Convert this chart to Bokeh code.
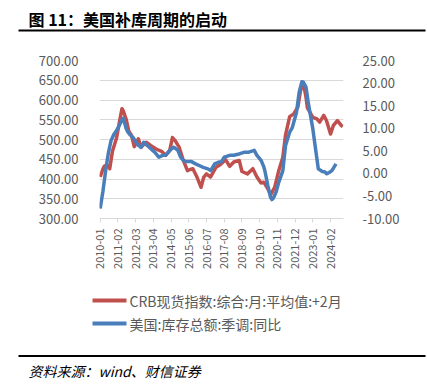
from bokeh.plotting import figure
from bokeh.layouts import column
from bokeh.models import Range1d, LinearAxis, FixedTicker, CustomJSTickFormatter
from bokeh.core.properties import value
from bokeh.embed import file_html
from bokeh.resources import INLINE

# ---------------- data ----------------
tick_labels = ["2010-01", "2011-02", "2012-03", "2013-04", "2014-05", "2015-06", "2016-07",
               "2017-08", "2018-09", "2019-10", "2020-11", "2021-12", "2023-01", "2024-02"]

crb_months = ["2010-01", "2010-03", "2010-04", "2010-06", "2010-08", "2010-10", "2011-01",
              "2011-03", "2011-05", "2011-06", "2011-08", "2011-10", "2011-12", "2012-02",
              "2012-05", "2012-07", "2012-09", "2012-11", "2013-02", "2013-06", "2013-10",
              "2014-01", "2014-04", "2014-06", "2014-08", "2014-11", "2015-02", "2015-05",
              "2015-07", "2015-09", "2015-12", "2016-03", "2016-05", "2016-07", "2016-10",
              "2017-02", "2017-05", "2017-09", "2017-12", "2018-03", "2018-07", "2018-09",
              "2019-01", "2019-05", "2019-08", "2019-11", "2020-01", "2020-04", "2020-06",
              "2020-09", "2020-12", "2021-03", "2021-05", "2021-08", "2021-11", "2022-02",
              "2022-04", "2022-06", "2022-08", "2022-09", "2023-01", "2023-04", "2023-06",
              "2023-09", "2023-11", "2024-02", "2024-04", "2024-07", "2024-10", "2024-11"]
crb_values = [405, 425, 432, 436, 426, 470, 504,
              542, 578, 572, 552, 521, 510, 482,
              502, 480, 488, 493, 485, 476, 470,
              460, 472, 505, 497, 480, 447, 421,
              424, 426, 405, 379, 405, 413, 405,
              430, 436, 449, 432, 443, 447, 419,
              413, 426, 405, 390, 392, 375, 360,
              379, 421, 455, 512, 558, 565, 582,
              624, 644, 607, 580, 556, 552, 544,
              561, 548, 514, 535, 548, 535, 533]

inv_months = ["2010-01", "2010-03", "2010-05", "2010-07", "2010-09", "2010-11", "2011-01",
              "2011-03", "2011-05", "2011-06", "2011-08", "2011-09", "2011-11", "2012-01",
              "2012-03", "2012-05", "2012-07", "2012-09", "2012-11", "2013-01", "2013-03",
              "2013-05", "2013-08", "2013-11", "2014-01", "2014-04", "2014-07", "2014-10",
              "2014-12", "2015-02", "2015-04", "2015-08", "2015-11", "2016-04", "2016-08",
              "2016-10", "2017-01", "2017-04", "2017-06", "2017-08", "2017-12", "2018-03",
              "2018-07", "2018-11", "2019-02", "2019-06", "2019-08", "2019-11", "2020-01",
              "2020-02", "2020-04", "2020-06", "2020-07", "2020-08", "2020-10", "2020-12",
              "2021-03", "2021-05", "2021-08", "2021-10", "2022-01", "2022-03", "2022-05",
              "2022-06", "2022-08", "2022-10", "2023-01", "2023-03", "2023-05", "2023-08",
              "2023-10", "2023-11", "2024-01", "2024-03", "2024-06"]
inv_values = [-7.8, -4.0, 0.6, 4.5, 7.3, 8.6, 9.5,
              10.6, 11.9, 12.2, 10.0, 9.3, 8.5, 8.0,
              7.0, 6.2, 5.8, 6.9, 6.3, 5.8, 5.2,
              4.7, 3.6, 4.0, 4.0, 5.1, 5.8, 5.1,
              3.6, 2.9, 2.6, 2.6, 2.1, 1.4, 1.0,
              0.6, 2.1, 2.5, 2.6, 3.6, 4.0, 4.0,
              4.3, 4.7, 4.7, 5.1, 4.0, 2.9, 1.5,
              0.3, -2.7, -5.3, -5.8, -5.5, -4.2, -2.0,
              0.6, 6.2, 9.1, 10.2, 13.5, 18.0, 20.3,
              20.2, 19.1, 15.0, 9.9, 5.4, 1.0, 0.4,
              0.3, -0.1, 0.2, 0.6, 2.1]

left_ticks = [300, 350, 400, 450, 500, 550, 600, 650, 700]
right_ticks = [-10, -5, 0, 5, 10, 15, 20, 25]

crb_name = "CRB现货指数:综合:月:平均值:+2月"
inv_name = "美国:库存总额:季调:同比"
title_text = "图 11：美国补库周期的启动"
source_text = "资料来源：wind、财信证券"

RED = "#C0504D"
BLUE = "#4A7EBB"
GREY = "#595959"
FONT = "Noto Sans CJK SC"
W = 427


def midx(s):
    y, m = s.split("-")
    return (int(y) - 2010) * 12 + int(m) - 1


crb_x = [midx(s) for s in crb_months]
inv_x = [midx(s) for s in inv_months]
tick_x = [midx(s) for s in tick_labels]


def blank(h):
    f = figure(width=W, height=h, output_backend="svg", toolbar_location=None,
               x_range=Range1d(0, W), y_range=Range1d(h, 0),
               x_axis_type=None, y_axis_type=None, min_border=0,
               frame_align=False)
    f.outline_line_color = None
    f.xgrid.visible = False
    f.ygrid.visible = False
    return f


# ---------------- header ----------------
TOP_H = 40
top = blank(TOP_H)
top.text(x=[28], y=[18], text=[title_text], text_font=value(FONT), text_font_style="bold",
         text_font_size="16px", text_color="black", text_baseline="middle", text_align="left")
top.segment(x0=[18], y0=[30], x1=[425], y1=[30], line_color="black", line_width=2)

# ---------------- main chart ----------------
MAIN_H = 245
FL, FR, FT, FB = 99, 343, 20, 178  # frame edges within main figure
p = figure(width=W, height=MAIN_H, output_backend="svg", toolbar_location=None,
           x_range=Range1d(-0.5, 178.5), y_range=Range1d(300, 700),
           min_border_left=FL, min_border_right=W - FR,
           min_border_top=FT, min_border_bottom=MAIN_H - FB, frame_align=False)
p.outline_line_color = None
p.extra_y_ranges = {"right": Range1d(-10, 25)}

p.yaxis.ticker = FixedTicker(ticks=left_ticks)
p.yaxis.formatter = CustomJSTickFormatter(code="return tick.toFixed(2);")
p.yaxis.axis_line_color = None
p.yaxis.major_tick_line_color = None
p.yaxis.minor_tick_line_color = None
p.yaxis.major_label_standoff = 15
p.yaxis.major_label_text_font = FONT
p.yaxis.major_label_text_font_size = "13px"
p.yaxis.major_label_text_color = GREY

ra = LinearAxis(y_range_name="right", ticker=FixedTicker(ticks=right_ticks),
                formatter=CustomJSTickFormatter(code="return tick.toFixed(2);"))
ra.axis_line_color = None
ra.major_tick_line_color = None
ra.minor_tick_line_color = None
ra.major_label_standoff = 13
ra.major_label_text_font = FONT
ra.major_label_text_font_size = "13px"
ra.major_label_text_color = GREY
p.add_layout(ra, "right")

p.xaxis.ticker = FixedTicker(ticks=tick_x)
p.xaxis.major_label_overrides = {x: s for x, s in zip(tick_x, tick_labels)}
p.xaxis.major_label_orientation = 1.5707963
p.xaxis.axis_line_color = "#D9D9D9"
p.xaxis.major_tick_line_color = "#D9D9D9"
p.xaxis.major_tick_in = 0
p.xaxis.major_tick_out = 4
p.xaxis.minor_tick_line_color = None
p.xaxis.major_label_standoff = 6
p.xaxis.major_label_text_font = FONT
p.xaxis.major_label_text_font_size = "11px"
p.xaxis.major_label_text_color = GREY

p.xgrid.grid_line_color = None
p.ygrid.grid_line_color = "#D9D9D9"
p.ygrid.ticker = FixedTicker(ticks=left_ticks)

p.line(crb_x, crb_values, line_color=RED, line_width=3.5, line_join="round")
p.line(inv_x, inv_values, line_color=BLUE, line_width=3.5, line_join="round",
       y_range_name="right")

# ---------------- legend + source ----------------
BOT_H = 392 - TOP_H - MAIN_H
bot = blank(BOT_H)
leg_y = [15, 38]
bot.segment(x0=[92, 92], y0=leg_y, x1=[126, 126], y1=leg_y,
            line_color=[RED, BLUE], line_width=4)
bot.text(x=[129, 129], y=leg_y, text=[crb_name, inv_name], text_font=value(FONT),
         text_font_size="14px", text_color=GREY, text_baseline="middle", text_align="left")
bot.segment(x0=[18], y0=[70.5], x1=[425], y1=[70.5], line_color="black", line_width=2)
bot.text(x=[28], y=[85], text=[source_text], text_font=value(FONT), text_font_style="italic",
         text_font_size="14px", text_color="black", text_baseline="middle", text_align="left")

layout = column(top, p, bot, spacing=0)
open("out.html", "w").write(file_html(layout, INLINE))
